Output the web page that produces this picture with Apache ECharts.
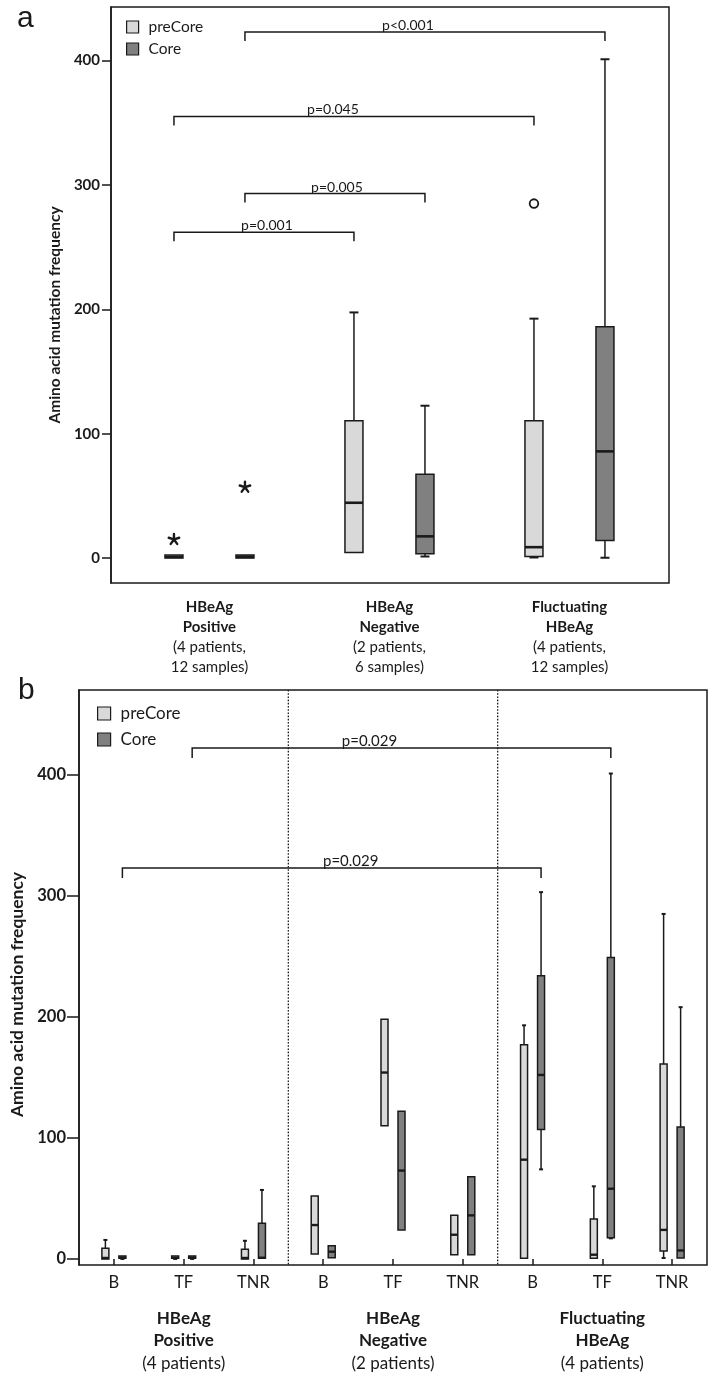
<!DOCTYPE html>
<html><head><meta charset="utf-8">
<script src="https://cdn.jsdelivr.net/npm/echarts@6/dist/echarts.min.js"></script>
<style>html,body{margin:0;padding:0;background:#fff}#c{width:713px;height:1376px}</style>
</head><body><div id="c"></div>
<script>
// ---------------- DATA ----------------
const seriesNames = ['preCore', 'Core'];
// Panel a (box stats: [low whisker, Q1, median, Q3, high whisker])
const groupNamesA = ['HBeAg\nPositive', 'HBeAg\nNegative', 'Fluctuating\nHBeAg'];
const groupCountsA = ['(4 patients,\n12 samples)', '(2 patients,\n6 samples)', '(4 patients,\n12 samples)'];
const preCoreA = [[0, 0, 1, 2.5, 2.5], [4.5, 4.5, 44.5, 110.5, 197.5], [0.5, 1.3, 8.8, 110.5, 192.5]];
const coreA = [[0, 0, 1, 2.5, 2.5], [1.3, 3.5, 17.5, 67.5, 122.5], [0.3, 14.2, 85.8, 186, 401]];
const extremesA = [[0, 0, 15], [0, 1, 57]];      // [group, series (0 preCore / 1 Core), value]
const outliersA = [[2, 0, 285]];
const bracketsA = [[0, 1, 2, 1, 423], [0, 0, 2, 0, 355], [0, 1, 1, 1, 293], [0, 0, 1, 0, 262]]; // [fromGroup, fromSeries, toGroup, toSeries, level]
const bracketLabelsA = ['p<0.001', 'p=0.045', 'p=0.005', 'p=0.001'];
const yTicksA = [0, 100, 200, 300, 400];
// Panel b
const categoriesB = ['B', 'TF', 'TNR', 'B', 'TF', 'TNR', 'B', 'TF', 'TNR'];
const groupNamesB = ['HBeAg\nPositive', 'HBeAg\nNegative', 'Fluctuating\nHBeAg'];
const groupCountsB = ['(4 patients)', '(2 patients)', '(4 patients)'];
const preCoreB = [
  [0, 0, 0.8, 8.8, 15.7], [0, 0.5, 1, 2.5, 2.5], [0, 0, 0.8, 8, 15],
  [4, 4, 28, 52, 52], [110, 110, 154, 198, 198], [3.5, 3.5, 20, 36, 36],
  [0.5, 0.6, 82, 177, 193], [0.5, 0.6, 3.5, 33, 60], [0.8, 6.6, 24, 161, 285]
];
const coreB = [
  [0, 0.5, 1, 2.5, 2.5], [0, 0.5, 1, 2.5, 2.5], [0.5, 0.5, 1, 29.5, 57],
  [1, 1, 6, 11, 11], [24, 24, 73, 122, 122], [3.5, 3.5, 36, 68, 68],
  [74, 107, 152, 234, 303], [17, 17.5, 58, 249, 401], [0.5, 0.8, 7, 109, 208]
];
const groupBoundariesB = [3, 6];
const bracketsB = [[1, 1, 7, 1, 422], [0, 1, 6, 1, 323]];
const bracketLabelsB = ['p=0.029', 'p=0.029'];
const yTicksB = [0, 100, 200, 300, 400];

// ---------------- STYLE ----------------
const FONT = 'Lato, "Open Sans", sans-serif';
const INK = '#1a1a1a';
const FILL = ['#d9d9d9', '#808080'];
const A = { off: 35.5, boxW: 18, capW: 9, lw: 1.5, medW: 2.6, leg: 9, font: 14, labelDx: [-17, -21, 2, 3], labelDy: -6.5 };
const B = { off: 8.5, boxW: 7, capW: 4, lw: 1.5, medW: 2.4, leg: 10, font: 15, labelDx: [-32, 19], labelDy: -7 };

function rowsA(a) { return a.map((r, i) => [i].concat(r)); }

function boxRenderer(cfg, s) {
  return function (params, api) {
    const g = api.value(0);
    const cx = api.coord([g, 0])[0] + (s === 0 ? -cfg.off : cfg.off);
    const ys = [1, 2, 3, 4, 5].map(i => api.coord([g, api.value(i)])[1]);
    const [yLo, yQ1, yMed, yQ3, yHi] = ys;
    const ls = { stroke: INK, lineWidth: cfg.lw };
    const ch = [];
    if (yHi < yQ3 - 0.5) {
      ch.push({ type: 'line', shape: { x1: cx, y1: yHi, x2: cx, y2: yQ3 }, style: ls });
      ch.push({ type: 'line', shape: { x1: cx - cfg.capW / 2, y1: yHi, x2: cx + cfg.capW / 2, y2: yHi }, style: { stroke: INK, lineWidth: cfg.lw + 0.5 } });
    }
    if (yLo > yQ1 + 0.5) {
      ch.push({ type: 'line', shape: { x1: cx, y1: yQ1, x2: cx, y2: yLo }, style: ls });
      ch.push({ type: 'line', shape: { x1: cx - cfg.capW / 2, y1: yLo, x2: cx + cfg.capW / 2, y2: yLo }, style: { stroke: INK, lineWidth: cfg.lw + 0.5 } });
    }
    ch.push({ type: 'rect', shape: { x: cx - cfg.boxW / 2, y: yQ3, width: cfg.boxW, height: Math.max(yQ1 - yQ3, 1) }, style: { fill: FILL[s], stroke: INK, lineWidth: cfg.lw } });
    ch.push({ type: 'line', shape: { x1: cx - cfg.boxW / 2, y1: yMed, x2: cx + cfg.boxW / 2, y2: yMed }, style: { stroke: INK, lineWidth: cfg.medW } });
    return { type: 'group', children: ch };
  };
}

function bracketRenderer(cfg, labels) {
  return function (params, api) {
    const i = params.dataIndex;
    const g1 = api.value(0), s1 = api.value(1), g2 = api.value(2), s2 = api.value(3), lvl = api.value(4);
    const x1 = api.coord([g1, lvl])[0] + (s1 === 0 ? -cfg.off : cfg.off);
    const x2 = api.coord([g2, lvl])[0] + (s2 === 0 ? -cfg.off : cfg.off);
    const y = api.coord([g1, lvl])[1];
    return {
      type: 'group', children: [
        { type: 'polyline', shape: { points: [[x1, y + cfg.leg], [x1, y], [x2, y], [x2, y + cfg.leg]] }, style: { stroke: INK, lineWidth: 1.5, fill: null } },
        { type: 'text', x: (x1 + x2) / 2 + cfg.labelDx[i], y: y + cfg.labelDy, style: { text: labels[i], fontFamily: FONT, fontSize: cfg.font, fill: INK, align: 'center', verticalAlign: 'middle' } }
      ]
    };
  };
}

function pointRenderer(cfg, kind) {
  return function (params, api) {
    const g = api.value(0), s = api.value(1), v = api.value(2);
    const p = api.coord([g, v]);
    const cx = p[0] + (s === 0 ? -cfg.off : cfg.off), cy = p[1];
    if (kind === 'circle') {
      return { type: 'circle', shape: { cx, cy, r: 4.3 }, style: { fill: '#fff', stroke: INK, lineWidth: 1.8 } };
    }
    const ch = [];
    for (let k = 0; k < 5; k++) {
      const a = -Math.PI / 2 + k * 2 * Math.PI / 5;
      ch.push({ type: 'line', shape: { x1: cx, y1: cy, x2: cx + 5.5 * Math.cos(a), y2: cy + 5.5 * Math.sin(a) }, style: { stroke: INK, lineWidth: 2.4, lineCap: 'round' } });
    }
    return { type: 'group', children: ch };
  };
}

function groupFormatter(names, counts) {
  return function (v, idx) {
    const i = Math.round(typeof v === 'number' ? v : idx);
    const n = names[i], c = counts[i];
    if (n === undefined) return '';
    return n.split('\n').map(t => '{b|' + t + '}').concat(c.split('\n').map(t => '{n|' + t + '}')).join('\n');
  };
}

const chart = echarts.init(document.getElementById('c'), null, { renderer: 'canvas' });
chart.setOption({
  animation: false,
  backgroundColor: '#fff',
  textStyle: { fontFamily: FONT, color: INK },
  graphic: [
    { type: 'text', left: 17, top: 4, style: { text: 'a', fontFamily: 'Liberation Sans, Arial, sans-serif', fontSize: 30, fill: INK } },
    { type: 'text', left: 18, top: 676, style: { text: 'b', fontFamily: 'Liberation Sans, Arial, sans-serif', fontSize: 30, fill: INK } }
  ],
  legend: [
    { data: seriesNames, orient: 'vertical', left: 121, top: 14, itemWidth: 12, itemHeight: 12, itemGap: 6, icon: 'rect', selectedMode: false,
      itemStyle: { borderColor: INK, borderWidth: 1.2 }, textStyle: { fontSize: 15.5, color: INK, fontFamily: FONT, padding: [0, 0, 0, 5] } },
    { data: seriesNames, orient: 'vertical', left: 92, top: 700, itemWidth: 13, itemHeight: 13, itemGap: 9, icon: 'rect', selectedMode: false,
      itemStyle: { borderColor: INK, borderWidth: 1.2 }, textStyle: { fontSize: 17, color: INK, fontFamily: FONT, padding: [0, 0, 0, 5] } }
  ],
  grid: [
    { left: 111, top: 7, width: 558, height: 576, show: true, borderColor: INK, borderWidth: 1.5, backgroundColor: 'transparent' },
    { left: 77, top: 690, width: 630, height: 575, show: true, borderColor: INK, borderWidth: 1.5, backgroundColor: 'transparent' }
  ],
  xAxis: [
    { type: 'value', gridIndex: 0, min: -0.547, max: 2.553, splitLine: { show: false }, axisLine: { show: false }, axisTick: { show: false },
      axisLabel: { customValues: [0, 1, 2], margin: 14, formatter: groupFormatter(groupNamesA, groupCountsA),
        rich: { b: { fontFamily: FONT, fontSize: 15, fontWeight: 'bold', lineHeight: 20, color: INK }, n: { fontFamily: FONT, fontSize: 15, lineHeight: 20, color: INK } } } },
    { type: 'category', gridIndex: 1, data: categoriesB, splitLine: { show: false }, axisLine: { show: false },
      axisTick: { show: true, alignWithLabel: true, length: 6, lineStyle: { color: INK, width: 1.5 } },
      axisLabel: { fontSize: 16.5, color: INK, margin: 9, fontFamily: FONT } },
    { type: 'category', gridIndex: 1, data: groupNamesB, position: 'bottom', splitLine: { show: false }, axisLine: { show: false }, axisTick: { show: false },
      axisLabel: { margin: 42, formatter: groupFormatter(groupNamesB, groupCountsB),
        rich: { b: { fontFamily: FONT, fontSize: 17, fontWeight: 'bold', lineHeight: 22.5, color: INK }, n: { fontFamily: FONT, fontSize: 17, lineHeight: 22.5, color: INK } } } }
  ],
  yAxis: [
    { type: 'value', gridIndex: 0, min: -20, max: 443, splitLine: { show: false },
      axisLine: { show: true, onZero: false, lineStyle: { color: INK, width: 1.5 } },
      axisTick: { show: true, customValues: yTicksA, length: 9, lineStyle: { color: INK, width: 1.5 } },
      axisLabel: { customValues: yTicksA, fontSize: 15, fontWeight: 'bold', color: INK, margin: 11, fontFamily: FONT },
      name: 'Amino acid mutation frequency', nameLocation: 'middle', nameGap: 48, nameRotate: 90,
      nameTextStyle: { fontSize: 15.5, fontWeight: 'bold', color: INK, fontFamily: FONT, padding: [0, 40, 0, 0] } },
    { type: 'value', gridIndex: 1, min: -5, max: 470, splitLine: { show: false },
      axisLine: { show: true, onZero: false, lineStyle: { color: INK, width: 1.5 } },
      axisTick: { show: true, customValues: yTicksB, length: 12, lineStyle: { color: INK, width: 1.5 } },
      axisLabel: { customValues: yTicksB, fontSize: 16.5, fontWeight: 'bold', color: INK, margin: 13, fontFamily: FONT },
      name: 'Amino acid mutation frequency', nameLocation: 'middle', nameGap: 53, nameRotate: 90,
      nameTextStyle: { fontSize: 17.5, fontWeight: 'bold', color: INK, fontFamily: FONT, padding: [0, 34, 0, 0] } }
  ],
  series: [
    // panel a
    { type: 'custom', name: seriesNames[0], xAxisIndex: 0, yAxisIndex: 0, data: rowsA(preCoreA), encode: { x: 0, y: [1, 2, 3, 4, 5] },
      itemStyle: { color: FILL[0], borderColor: INK, borderWidth: 1.2 }, renderItem: boxRenderer(A, 0) },
    { type: 'custom', name: seriesNames[1], xAxisIndex: 0, yAxisIndex: 0, data: rowsA(coreA), encode: { x: 0, y: [1, 2, 3, 4, 5] },
      itemStyle: { color: FILL[1], borderColor: INK, borderWidth: 1.2 }, renderItem: boxRenderer(A, 1) },
    { type: 'custom', name: 'extremesA', xAxisIndex: 0, yAxisIndex: 0, data: extremesA, encode: { x: 0, y: 2 }, renderItem: pointRenderer(A, 'star') },
    { type: 'custom', name: 'outliersA', xAxisIndex: 0, yAxisIndex: 0, data: outliersA, encode: { x: 0, y: 2 }, renderItem: pointRenderer(A, 'circle') },
    { type: 'custom', name: 'bracketsA', xAxisIndex: 0, yAxisIndex: 0, data: bracketsA, encode: { x: 0, y: 4 }, renderItem: bracketRenderer(A, bracketLabelsA) },
    // panel b
    { type: 'custom', name: 'separatorsB', xAxisIndex: 1, yAxisIndex: 1, data: groupBoundariesB.map(b => [b]), encode: { x: 0 },
      renderItem: function (params, api) {
        const b = api.value(0);
        const x = (api.coord([b - 1, 0])[0] + api.coord([b, 0])[0]) / 2;
        const cs = params.coordSys;
        return { type: 'line', shape: { x1: x, y1: cs.y, x2: x, y2: cs.y + cs.height }, style: { stroke: INK, lineWidth: 1.3, lineDash: [1.6, 1.6] } };
      } },
    { type: 'custom', name: seriesNames[0], xAxisIndex: 1, yAxisIndex: 1, data: rowsA(preCoreB), encode: { x: 0, y: [1, 2, 3, 4, 5] },
      itemStyle: { color: FILL[0], borderColor: INK, borderWidth: 1.2 }, renderItem: boxRenderer(B, 0) },
    { type: 'custom', name: seriesNames[1], xAxisIndex: 1, yAxisIndex: 1, data: rowsA(coreB), encode: { x: 0, y: [1, 2, 3, 4, 5] },
      itemStyle: { color: FILL[1], borderColor: INK, borderWidth: 1.2 }, renderItem: boxRenderer(B, 1) },
    { type: 'custom', name: 'bracketsB', xAxisIndex: 1, yAxisIndex: 1, data: bracketsB, encode: { x: 0, y: 4 }, renderItem: bracketRenderer(B, bracketLabelsB) }
  ]
});
</script>
</body></html>
